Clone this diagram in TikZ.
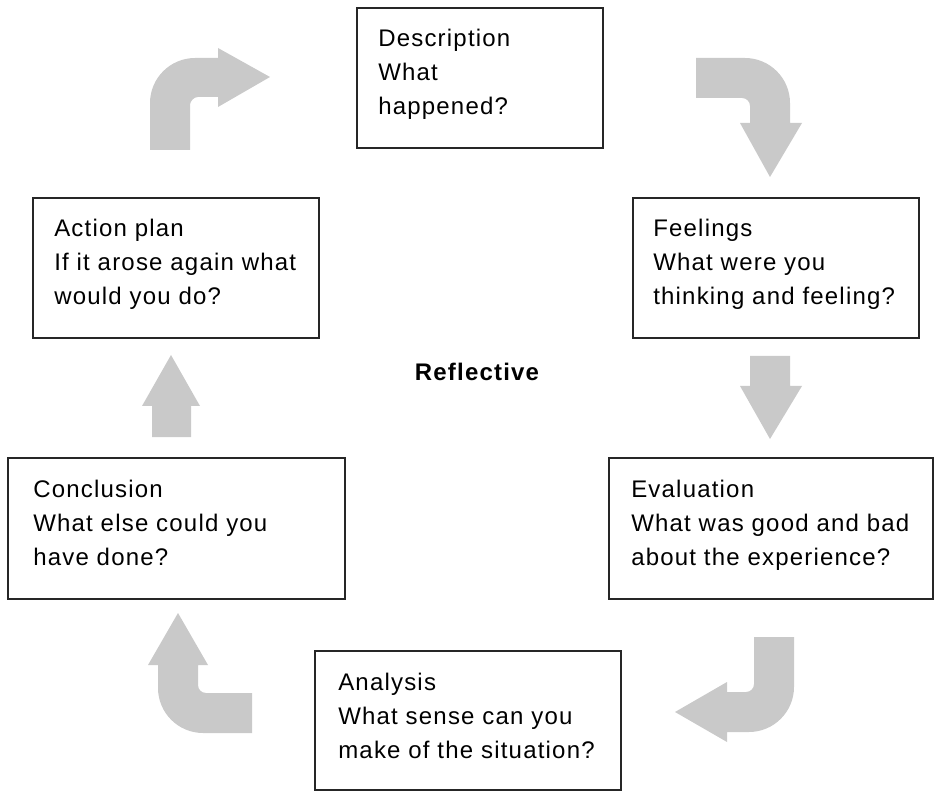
\documentclass[tikz,border=0pt]{standalone}
\usepackage{fontspec}
\setmainfont{Liberation Sans}[LetterSpace=5]
\usetikzlibrary{fit}
\definecolor{arrowgray}{HTML}{C9C9C9}
\newcommand\boxlines[1]{\begin{tabular}[t]{@{}l@{}}#1\end{tabular}}
\begin{document}
\begin{tikzpicture}[x=0.75pt,y=-0.75pt,
  stagebox/.style={draw=black!85,line width=1.1pt,inner sep=0pt,fill=none},
  stagetext/.style={anchor=base west,inner sep=0pt,
    font=\fontsize{18}{25.5}\selectfont},
  blockarrow/.style={fill=arrowgray,draw=none}]
\useasboundingbox (0,0) rectangle (935,791);

% stage boxes
\node[stagebox,fit={(357,8) (603,148)}]   (desc) {};
\node[stagebox,fit={(633,198) (919,338)}] (feel) {};
\node[stagebox,fit={(609,458) (933,599)}] (eval) {};
\node[stagebox,fit={(315,651) (621,790)}] (anal) {};
\node[stagebox,fit={(8,458) (345,599)}]   (concl) {};
\node[stagebox,fit={(33,198) (319,338)}]  (act) {};

% stage texts
\node[stagetext] (desc-t)  at (378,47)  {\boxlines{Description\\What\\happened?}};
\node[stagetext] (feel-t)  at (653,237) {\boxlines{Feelings\\What were you\\thinking and feeling?}};
\node[stagetext] (eval-t)  at (631,497) {\boxlines{Evaluation\\What was good and bad\\about the experience?}};
\node[stagetext] (anal-t)  at (338,690) {\boxlines{Analysis\\What sense can you\\make of the situation?}};
\node[stagetext] (concl-t) at (33,497)  {\boxlines{Conclusion\\What else could you\\have done?}};
\node[stagetext] (act-t)   at (54,237)  {\boxlines{Action plan\\If it arose again what\\would you do?}};

% centre label
\node[anchor=base,inner sep=0pt,font=\fontsize{18}{22}\selectfont\bfseries] (centre) at (477,381) {Reflective};

% block arrows around the cycle
% action plan -> description (up, then right)
\path[blockarrow] (150,150) -- (150,103) .. controls (150,78.2) and (170.2,58) .. (195,58)
  -- (218,58) -- (218,48) -- (270,77) -- (218,107) -- (218,97) -- (198,97)
  .. controls (193.6,97) and (190,101.4) .. (190,105) -- (190,150) -- cycle;
% description -> feelings (right, then down)
\path[blockarrow] (696,58) -- (745,58) .. controls (769.8,58) and (790,78.2) .. (790,103)
  -- (790,123) -- (802,123) -- (770,177) -- (740,123) -- (750,123) -- (750,106)
  .. controls (750,101.6) and (746.4,98) .. (742,98) -- (696,98) -- cycle;
% feelings -> evaluation (down)
\path[blockarrow] (750,356) -- (790,356) -- (790,386) -- (802,386) -- (770,439)
  -- (740,386) -- (750,386) -- cycle;
% evaluation -> analysis (down, then left)
\path[blockarrow] (754,637) -- (794,637) -- (794,687) .. controls (794,711.8) and (773.8,732) .. (749,732)
  -- (727,732) -- (727,742) -- (675,712) -- (727,682) -- (727,692) -- (746,692)
  .. controls (750.4,692) and (754,688.4) .. (754,684) -- cycle;
% analysis -> conclusion (left, then up)
\path[blockarrow] (252,693) -- (252,733) -- (203,733) .. controls (178.2,733) and (158,712.8) .. (158,688)
  -- (158,665) -- (148,665) -- (178,613) -- (208,665) -- (198,665) -- (198,685)
  .. controls (198,689.4) and (201.6,693) .. (206,693) -- cycle;
% conclusion -> action plan (up)
\path[blockarrow] (152,437) -- (152,406) -- (142,406) -- (171,355) -- (200,406)
  -- (191,406) -- (191,437) -- cycle;
\end{tikzpicture}
\end{document}
